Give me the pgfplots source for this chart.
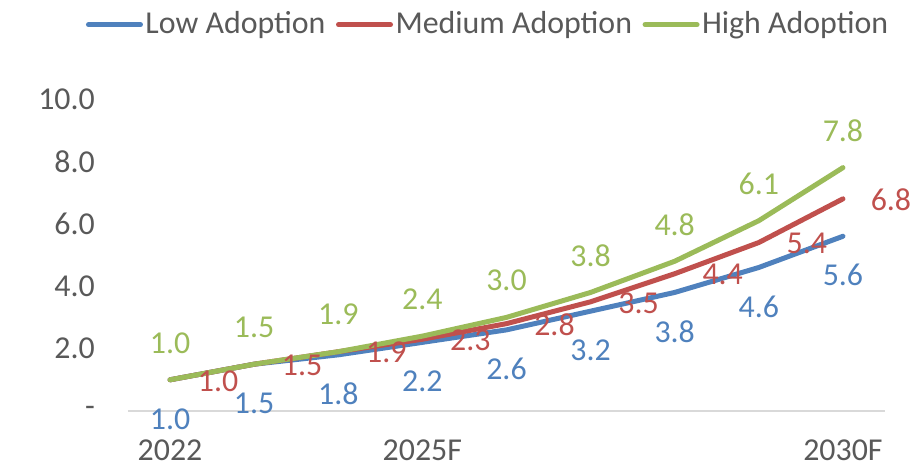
\documentclass[border=0pt]{standalone}
\usepackage{fontspec}
\setmainfont{Carlito}
\usepackage{pgfplots}
\pgfplotsset{compat=1.18}
\definecolor{cblue}{HTML}{4F81BD}
\definecolor{cred}{HTML}{C0504D}
\definecolor{cgreen}{HTML}{9BBB59}
\definecolor{ctext}{HTML}{595959}
\definecolor{caxis}{HTML}{D9D9D9}
\begin{document}
\fontsize{32}{38}\selectfont
\begin{tikzpicture}
\begin{axis}[
  at={(0,0)}, anchor=south west,
  scale only axis, width=757bp, height=312bp,
  xmin=-0.5, xmax=8.5, ymin=0, ymax=10,
  clip=false,
  axis lines*=left,
  y axis line style={draw=none},
  x axis line style={draw=caxis, line width=1.5bp, -},
  major tick length=0pt,
  tick style={draw=none},
  xtick={0,3,8}, xticklabels={2022,2025F,2030F},
  ytick={0,2,4,6,8,10}, yticklabels={-\hspace{14bp},2.0,4.0,6.0,8.0,10.0},
  xticklabel style={anchor=north, inner sep=0pt, yshift=-29bp, text=ctext},
  yticklabel style={anchor=east, inner sep=0pt, xshift=-33bp, text=ctext},
  /pgf/number format/assume math mode=true,
  /pgf/number format/fixed, /pgf/number format/fixed zerofill, /pgf/number format/precision=1,
  legend style={at={(0.476,1.282)}, anchor=north, draw=none, fill=none,
    text=ctext, inner sep=0pt, nodes={inner xsep=2.5bp, inner ysep=0pt},
    /tikz/every even column/.append style={column sep=8bp}},
  legend columns=3,
  legend cell align=left,
  legend image code/.code={\draw[#1, line width=5bp, line cap=round] (0bp,0bp) -- (52bp,0bp);},
]
\addplot[cblue, line width=5bp, line cap=round, line join=round,
  nodes near coords, nodes near coords style={anchor=center, yshift=-39bp, text=cblue}]
  coordinates {(0,1.0) (1,1.5) (2,1.8) (3,2.2) (4,2.6) (5,3.2) (6,3.8) (7,4.6) (8,5.6)};
\addlegendentry{Low Adoption}
\addplot[cred, line width=5bp, line cap=round, line join=round,
  nodes near coords, nodes near coords style={anchor=center, xshift=48bp, yshift=-1bp, text=cred}]
  coordinates {(0,1.0) (1,1.5) (2,1.9) (3,2.3) (4,2.8) (5,3.5) (6,4.4) (7,5.4) (8,6.8)};
\addlegendentry{Medium Adoption}
\addplot[cgreen, line width=5bp, line cap=round, line join=round,
  nodes near coords, nodes near coords style={anchor=center, yshift=37bp, text=cgreen}]
  coordinates {(0,1.0) (1,1.5) (2,1.9) (3,2.4) (4,3.0) (5,3.8) (6,4.8) (7,6.1) (8,7.8)};
\addlegendentry{High Adoption}
\end{axis}
\pgfresetboundingbox
\path (-128bp,-57bp) rectangle (794bp,411bp);
\end{tikzpicture}
\end{document}
